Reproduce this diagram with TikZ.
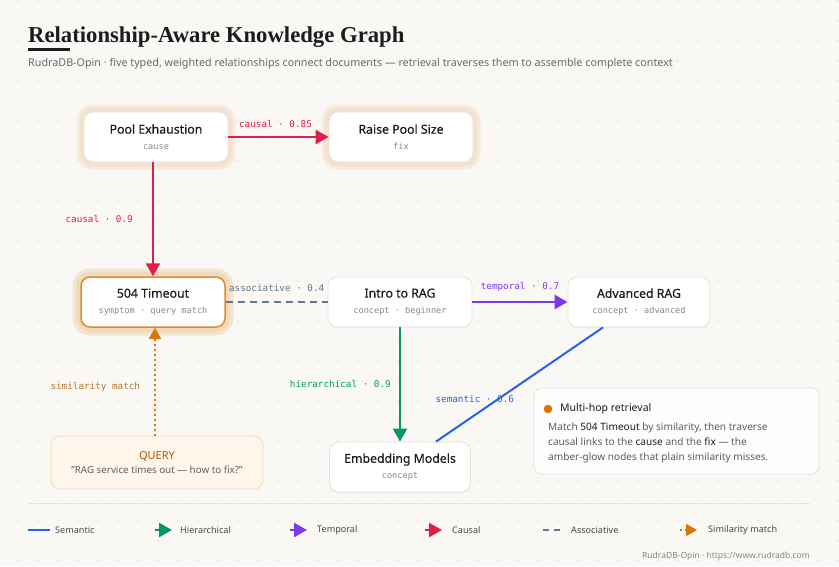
\documentclass[tikz,border=0pt]{standalone}
\usepackage{fontspec}
\setmainfont{Noto Sans}
\setmonofont{DejaVu Sans Mono}
\newfontfamily\headfont{Liberation Serif}
\newfontfamily\nodefont{Noto Sans}[FakeBold=0.5]
\usetikzlibrary{arrows.meta,positioning,calc,shadows}

\definecolor{paper}{RGB}{250,248,244}
\definecolor{griddot}{RGB}{226,222,214}
\definecolor{ink}{RGB}{28,28,30}
\definecolor{mutedtxt}{RGB}{105,105,105}
\definecolor{subgray}{RGB}{135,135,135}
\definecolor{boxline}{RGB}{231,226,218}
\definecolor{glowout}{RGB}{246,235,221}
\definecolor{glowin}{RGB}{242,226,206}
\definecolor{glowamber}{RGB}{240,218,190}
\definecolor{causalred}{RGB}{225,29,72}
\definecolor{hiergreen}{RGB}{5,150,105}
\definecolor{temppurple}{RGB}{124,58,237}
\definecolor{semblue}{RGB}{37,99,235}
\definecolor{assocgray}{RGB}{100,116,139}
\definecolor{amber}{RGB}{217,119,6}
\definecolor{simtxt}{RGB}{180,120,40}
\definecolor{queryfill}{RGB}{254,246,234}
\definecolor{queryline}{RGB}{242,217,180}
\definecolor{querytitle}{RGB}{180,83,9}

\newcommand{\kgsub}[1]{\\[1pt]{\ttfamily\fontsize{8.6}{10}\selectfont\color{subgray}#1}}

\begin{document}
\begin{tikzpicture}[x=1pt, y=-1pt,
  kbox/.style={rectangle, rounded corners=9pt, fill=white, draw=boxline, line width=0.8pt,
    minimum width=144pt, minimum height=50pt, align=center, inner sep=0pt,
    font=\nodefont\fontsize{12.3}{15}\selectfont, text=ink,
    drop shadow={opacity=0.06, shadow xshift=0pt, shadow yshift=-1.5pt}},
  glow/.style={preaction={draw=glowout, line width=15pt}, preaction={draw=glowin, line width=9pt}},
  hotglow/.style={preaction={draw=glowamber!70, line width=17pt}, preaction={draw=glowamber, line width=10pt}},
  edgelbl/.style={font=\ttfamily\fontsize{9.3}{11}\selectfont, inner sep=1pt},
  causal/.style={draw=causalred, line width=2.5pt, -{Triangle[length=13pt,width=14pt]}},
  hier/.style={draw=hiergreen, line width=2.5pt, -{Triangle[length=13pt,width=14pt]}},
  temporal/.style={draw=temppurple, line width=2.5pt, -{Triangle[length=13pt,width=14pt]}},
  semantic/.style={draw=semblue, line width=2pt},
  assoc/.style={draw=assocgray, line width=1.8pt, dash pattern=on 7pt off 5pt},
  simil/.style={draw=amber, line width=1.8pt, dash pattern=on 2pt off 3pt, -{Triangle[length=11pt,width=12pt]}},
  legtxt/.style={anchor=west, font=\fontsize{9.1}{11}\selectfont, text=ink!80, inner sep=0pt}]

  \useasboundingbox (0,0) rectangle (839,566);
  % paper and dot grid
  \fill[paper] (0,0) rectangle (839,566);
  \foreach \i in {0,...,41}{
    \foreach \j in {0,...,28}{
      \fill[griddot] (18+20*\i,1+20*\j) circle[radius=0.9pt];
    }
  }

  % heading
  \node[anchor=base west, inner sep=0pt, text=ink,
    font=\headfont\bfseries\fontsize{22.7}{26}\selectfont] (title) at (28,42) {Relationship-Aware Knowledge Graph};
  \fill[ink] (28,47.5) rectangle (70,50.5);
  \node[anchor=base west, inner sep=0pt, text=mutedtxt,
    font=\fontsize{10.75}{12}\selectfont] (subtitle) at (28,66)
    {RudraDB-Opin · five typed, weighted relationships connect documents — retrieval traverses them to assemble complete context};

  % documents
  \node[kbox, glow] (pool) at (156,137) {Pool Exhaustion\kgsub{cause}};
  \node[kbox, glow] (raise) at (401,137) {Raise Pool Size\kgsub{fix}};
  \node[kbox, hotglow, draw=amber!85, line width=1.5pt] (timeout) at (153,302) {504 Timeout\kgsub{symptom · query match}};
  \node[kbox] (intro) at (400,302) {Intro to RAG\kgsub{concept · beginner}};
  \node[kbox, minimum width=142pt] (adv) at (639,302) {Advanced RAG\kgsub{concept · advanced}};
  \node[kbox, minimum width=141pt] (embed) at (400,467) {Embedding Models\kgsub{concept}};

  % the query
  \node[rectangle, rounded corners=9pt, fill=queryfill, draw=queryline, line width=0.8pt,
    minimum width=212pt, minimum height=53pt, align=center, inner sep=0pt] (query) at (157,462.5)
    {{\bfseries\fontsize{11}{13}\selectfont\color{querytitle}QUERY}\\[2pt]
     {\fontsize{9.8}{12}\selectfont\color{ink!70}\symbol{34}RAG service times out — how to fix?\symbol{34}}};

  % typed relationships
  \draw[causal] (pool) -- (raise)
    node[edgelbl, text=causalred, midway, above=7pt, xshift=-3pt] (lcause1) {causal · 0.85};
  \draw[causal] (pool.south -| timeout.north) -- (timeout.north)
    node[edgelbl, text=causalred, midway, left=18pt] (lcause2) {causal · 0.9};
  \draw[assoc] (timeout) -- (intro)
    node[edgelbl, text=assocgray, midway, above=8pt] (lassoc) {associative · 0.4};
  \draw[temporal] (intro) -- (adv)
    node[edgelbl, text=temppurple, midway, above=8pt] (ltemp) {temporal · 0.7};
  \draw[hier] (intro) -- (embed)
    node[edgelbl, text=hiergreen, midway, left=7pt] (lhier) {hierarchical · 0.9};
  \draw[semantic] ($(adv.south)+(-36,0)$) -- ($(embed.north)+(36,0)$)
    node[edgelbl, text=semblue, pos=0.63, xshift=-23pt] (lsem) {semantic · 0.6};
  \draw[simil] (query.north -| timeout.south) ++(2,0) -- ($(timeout.south)+(2,0)$)
    node[edgelbl, text=simtxt, pos=0.45, left=13pt] (lsim) {similarity match};

  % side note
  \node[rectangle, rounded corners=8pt, fill=white, fill opacity=0.85, draw=boxline, line width=0.8pt,
    minimum width=285pt, minimum height=86pt] (note) at (676.5,431) {};
  \fill[amber] (548,409) circle[radius=4.3pt];
  \node[anchor=west, inner sep=0pt, text=ink, font=\bfseries\fontsize{10.5}{12}\selectfont] (notehead) at (560,409) {Multi-hop retrieval};
  \node[anchor=north west, align=left, inner sep=0pt, text=ink!72,
    font=\fontsize{10.1}{15}\selectfont] (notebody) at (548,423)
    {Match {\bfseries\color{ink}504 Timeout} by similarity, then traverse\\
     causal links to the {\bfseries\color{ink}cause} and the {\bfseries\color{ink}fix} — the\\
     amber-glow nodes that plain similarity misses.};

  % legend
  \draw[boxline, line width=1pt] (28,503) -- (810,503);
  \coordinate (k1a) at (28,530);  \coordinate (k1b) at (50,530);
  \draw[semantic] (k1a) -- (k1b);
  \node[legtxt] (k1) at (55,530) {Semantic};
  \coordinate (k2a) at (155,530); \coordinate (k2b) at (172,530);
  \draw[hier] (k2a) -- (k2b);
  \node[legtxt] (k2) at (180,530) {Hierarchical};
  \coordinate (k3a) at (290,530); \coordinate (k3b) at (307,530);
  \draw[temporal] (k3a) -- (k3b);
  \node[legtxt] (k3) at (317,530) {Temporal};
  \coordinate (k4a) at (425,530); \coordinate (k4b) at (442,530);
  \draw[causal] (k4a) -- (k4b);
  \node[legtxt] (k4) at (452,530) {Causal};
  \coordinate (k5a) at (543,530); \coordinate (k5b) at (561,530);
  \draw[assoc, dash pattern=on 6pt off 5pt] (k5a) -- (k5b);
  \node[legtxt] (k5) at (571,530) {Associative};
  \coordinate (k6a) at (680,530); \coordinate (k6b) at (697,530);
  \draw[simil] (k6a) -- (k6b);
  \node[legtxt] (k6) at (708,530) {Similarity match};

  \node[anchor=base east, inner sep=0pt, text=subgray, font=\fontsize{8.5}{10}\selectfont] (footer) at (810,558)
    {RudraDB-Opin · https://www.rudradb.com};
\end{tikzpicture}
\end{document}
